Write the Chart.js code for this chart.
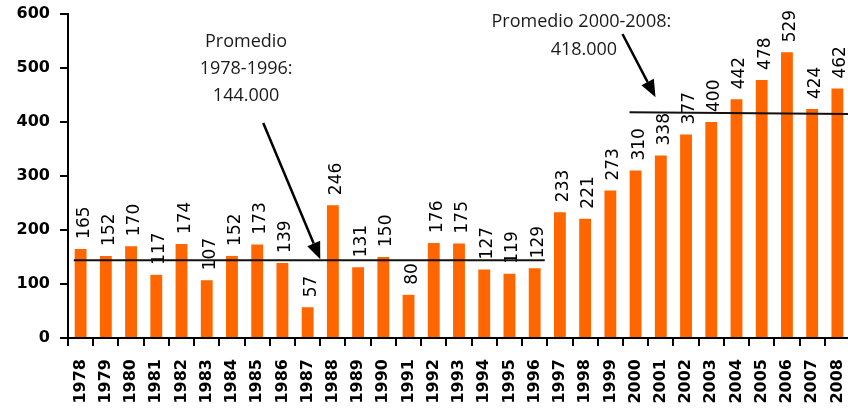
<!DOCTYPE html>
<html>
<head>
<meta charset="utf-8">
<script src="https://cdn.jsdelivr.net/npm/chart.js@4.4.1/dist/chart.umd.min.js"></script>
<style>
html,body{margin:0;padding:0;overflow:hidden;background:#fff;}
#wrap{width:850px;height:408px;}
</style>
</head>
<body>
<div id="wrap"><canvas id="c" width="850" height="408"></canvas></div>
<script>
// ---- data ----
const categories = ['1978','1979','1980','1981','1982','1983','1984','1985','1986','1987','1988','1989','1990','1991','1992','1993','1994','1995','1996','1997','1998','1999','2000','2001','2002','2003','2004','2005','2006','2007','2008'];
const values = [165,152,170,117,174,107,152,173,139,57,246,131,150,80,176,175,127,119,129,233,221,273,310,338,377,400,442,478,529,424,462];
const yTicks = [0,100,200,300,400,500,600];

// average periods (first / last category index, value at start / end)
const avgFromIdx = [0, 22];
const avgToIdx = [18, 30];
const avgStartValue = [144, 418];
const avgEndValue = [144, 415];

// annotation texts
const noteLines1 = ['Promedio', '1978-1996:', '144.000'];
const noteLines2 = ['Promedio 2000-2008:', '418.000'];

// arrows: [fromIndex, fromValue, toIndex, toValue]
const arrows = [
  [7.24, 398, 9.5, 146],
  [21.48, 563, 22.79, 446]
];

const BAR = '#FF6600';

const annotPlugin = {
  id: 'annot',
  afterDatasetsDraw(chart) {
    const {ctx, scales: {x, y}} = chart;
    const cw = x.getPixelForValue(1) - x.getPixelForValue(0);
    const meta = chart.getDatasetMeta(0);

    // value labels
    ctx.save();
    ctx.fillStyle = '#000';
    ctx.font = '17px "DejaVu Sans"';
    ctx.textAlign = 'left';
    ctx.textBaseline = 'alphabetic';
    meta.data.forEach((bar, i) => {
      ctx.save();
      ctx.translate(bar.x + 8, bar.y - 10);
      ctx.rotate(-Math.PI / 2);
      ctx.fillText(String(values[i]), 0, 0);
      ctx.restore();
    });
    ctx.restore();

    // average lines
    ctx.save();
    ctx.strokeStyle = '#111';
    ctx.lineWidth = 2;
    for (let k = 0; k < avgFromIdx.length; k++) {
      const x0 = x.getPixelForValue(avgFromIdx[k]) - (k === 0 ? 0.27 : 0.24) * cw;
      const x1 = x.getPixelForValue(avgToIdx[k]) + (k === 0 ? 0.4 : 0.5) * cw;
      ctx.beginPath();
      ctx.moveTo(x0, y.getPixelForValue(avgStartValue[k]));
      ctx.lineTo(x1, y.getPixelForValue(avgEndValue[k]));
      ctx.stroke();
    }
    ctx.restore();

    // arrows
    const px = (idx) => x.getPixelForValue(0) + idx * cw;
    ctx.save();
    ctx.strokeStyle = '#000';
    ctx.fillStyle = '#000';
    ctx.lineWidth = 2.5;
    arrows.forEach(a => {
      const x0 = px(a[0]), y0 = y.getPixelForValue(a[1]);
      const x1 = px(a[2]), y1 = y.getPixelForValue(a[3]);
      const ang = Math.atan2(y1 - y0, x1 - x0);
      const hl = 17, hw = 7;
      const bx = x1 - hl * Math.cos(ang), by = y1 - hl * Math.sin(ang);
      ctx.beginPath();
      ctx.moveTo(x0, y0);
      ctx.lineTo(bx, by);
      ctx.stroke();
      ctx.beginPath();
      ctx.moveTo(x1, y1);
      ctx.lineTo(bx + hw * Math.sin(ang), by - hw * Math.cos(ang));
      ctx.lineTo(bx - hw * Math.sin(ang), by + hw * Math.cos(ang));
      ctx.closePath();
      ctx.fill();
    });
    ctx.restore();

    // notes
    ctx.save();
    ctx.fillStyle = '#1a1a1a';
    ctx.font = '18px "Open Sans"';
    ctx.textAlign = 'center';
    ctx.textBaseline = 'alphabetic';
    const c1 = px(6.56), b1 = y.getPixelForValue(539);
    noteLines1.forEach((t, i) => ctx.fillText(t, c1, b1 + i * 27));
    const c2 = [px(19.85), px(19.95)], b2 = y.getPixelForValue(576);
    noteLines2.forEach((t, i) => ctx.fillText(t, c2[i], b2 + i * 28));
    ctx.restore();
  }
};

new Chart(document.getElementById('c'), {
  type: 'bar',
  data: {
    labels: categories,
    datasets: [{
      data: values,
      backgroundColor: BAR,
      borderWidth: 0,
      barPercentage: 0.47,
      categoryPercentage: 1
    }]
  },
  options: {
    responsive: false,
    animation: false,
    devicePixelRatio: 1,
    layout: { padding: { top: 14, right: 0, left: 0, bottom: 0 } },
    plugins: { legend: { display: false }, tooltip: { enabled: false } },
    scales: {
      x: {
        offset: true,
        grid: { offset: true, drawOnChartArea: false, drawTicks: true, tickLength: 8, color: '#000', lineWidth: 2 },
        border: { display: true, color: '#000', width: 2 },
        ticks: {
          autoSkip: false, maxRotation: 90, minRotation: 90, padding: 13,
          color: '#000', font: { family: 'DejaVu Sans', weight: 'bold', size: 16 }
        },
        afterFit(scale) { scale.height = 70; scale.paddingLeft = 0; scale.paddingRight = 0; }
      },
      y: {
        min: 0, max: 600,
        afterBuildTicks(scale) { scale.ticks = yTicks.map(v => ({ value: v })); },
        grid: { drawOnChartArea: false, drawTicks: true, tickLength: 8, color: '#000', lineWidth: 2 },
        border: { display: true, color: '#000', width: 2 },
        ticks: {
          padding: 10, color: '#000',
          font: { family: 'DejaVu Sans', weight: 'bold', size: 16 }
        },
        afterFit(scale) { scale.width = 68; scale.paddingTop = 0; scale.paddingBottom = 0; }
      }
    }
  },
  plugins: [annotPlugin]
});
</script>
</body>
</html>
